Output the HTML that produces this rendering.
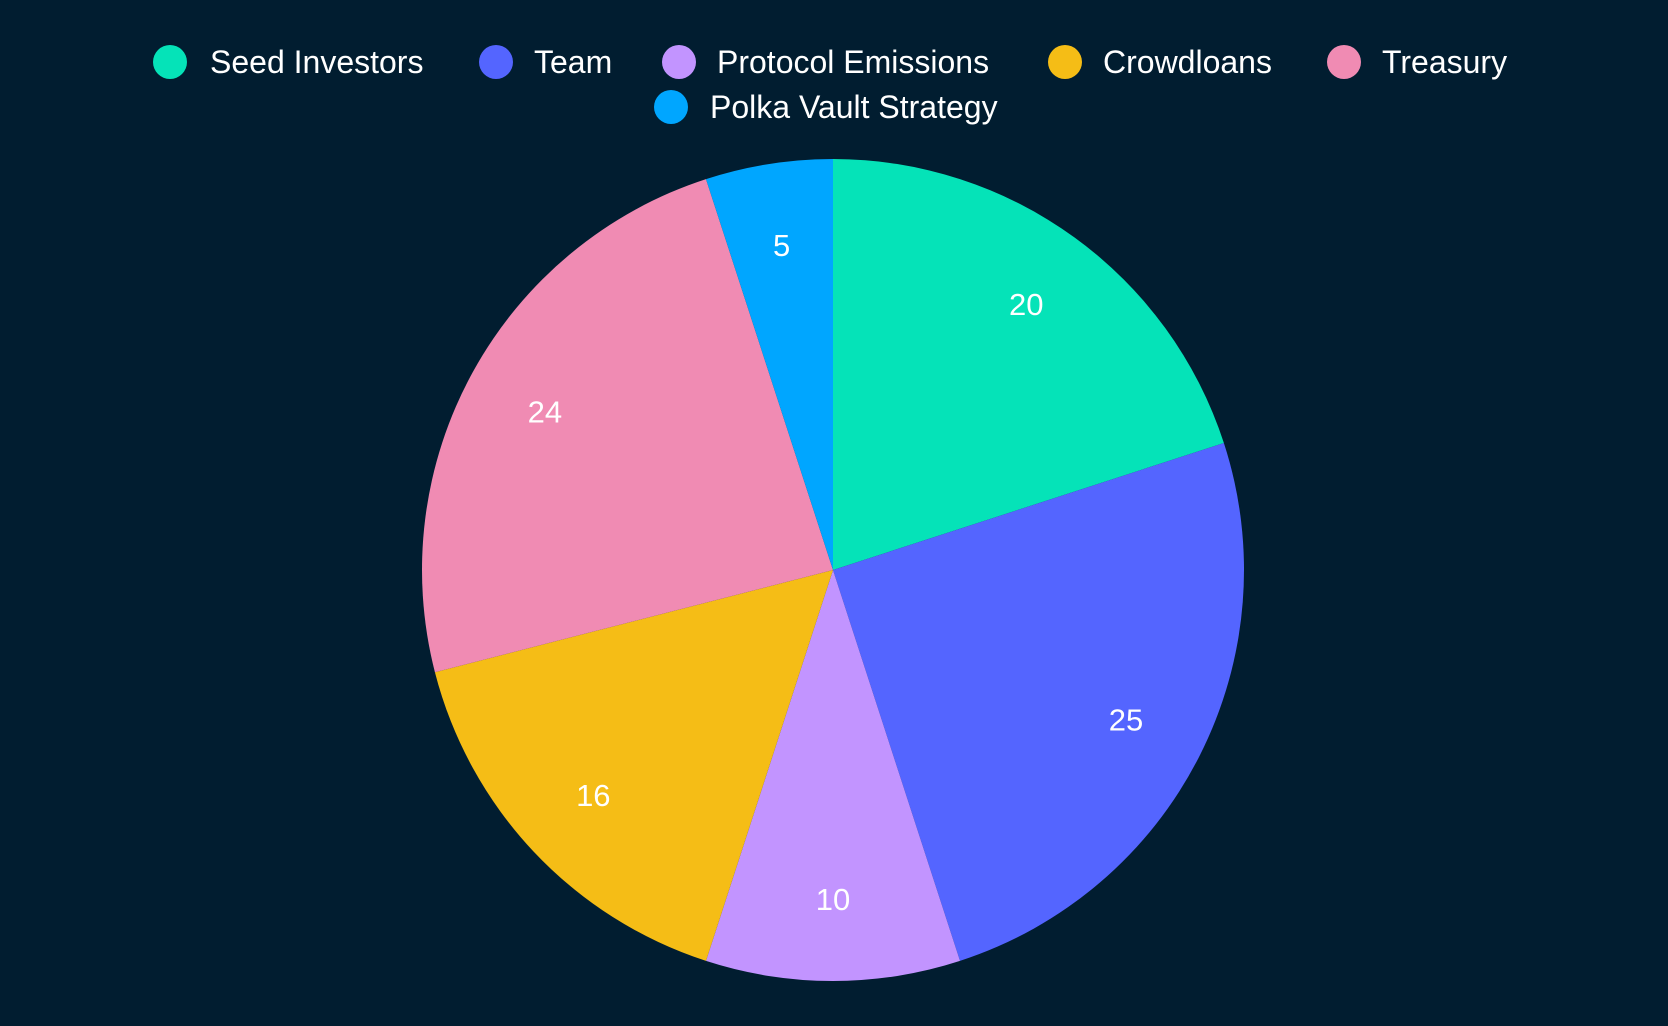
<!DOCTYPE html>
<html><head><meta charset="utf-8"><style>
html,body{margin:0;padding:0;background:#011d30;}
svg{display:block;font-family:"Liberation Sans",Arial,sans-serif;}
</style></head><body>
<svg id="chart" width="1668" height="1026" viewBox="0 0 1668 1026" xmlns="http://www.w3.org/2000/svg">
<rect width="1668" height="1026" fill="#011d30"/>
<g id="legend"></g>
<g id="slices"></g>
<g id="labels"></g>
</svg>
<script>
const categories = ["Seed Investors","Team","Protocol Emissions","Crowdloans","Treasury","Polka Vault Strategy"];
const values = [20,25,10,16,24,5];
const colors = ["#05e3b8","#5465ff","#c294ff","#f5bd16","#f08bb3","#00a6ff"];
const NS="http://www.w3.org/2000/svg";
const cx=833, cy=570, r=411;
const total=values.reduce((a,b)=>a+b,0);
function pt(a,rr){return [cx+rr*Math.sin(a), cy-rr*Math.cos(a)];}
let ang=0;
const sg=document.getElementById('slices'), lg=document.getElementById('labels');
values.forEach((v,i)=>{
  const a0=ang, a1=ang+v/total*2*Math.PI; ang=a1;
  const p0=pt(a0,r), p1=pt(a1,r);
  const large=(a1-a0)>Math.PI?1:0;
  const p=document.createElementNS(NS,'path');
  p.setAttribute('d',`M${cx},${cy} L${p0[0]},${p0[1]} A${r},${r} 0 ${large} 1 ${p1[0]},${p1[1]} Z`);
  p.setAttribute('fill',colors[i]);
  
  
  sg.appendChild(p);
  const m=pt((a0+a1)/2,r*0.8);
  const t=document.createElementNS(NS,'text');
  t.setAttribute('x',m[0]); t.setAttribute('y',m[1]+11);
  t.setAttribute('text-anchor','middle'); t.setAttribute('fill','#fff'); t.setAttribute('font-size','31');
  t.textContent=v;
  
  
  lg.appendChild(t);
});
const legendPos=[[170,210,62],[496,534,62],[679,717,62],[1065,1103,62],[1344,1382,62],[671,710,107]];
const leg=document.getElementById('legend');
categories.forEach((c,i)=>{
  const g=document.createElementNS(NS,'g');
  
  
  const ci=document.createElementNS(NS,'circle');
  ci.setAttribute('cx',legendPos[i][0]); ci.setAttribute('cy',legendPos[i][2]); ci.setAttribute('r',17);
  ci.setAttribute('fill',colors[i]);
  
  
  const t=document.createElementNS(NS,'text');
  t.setAttribute('x',legendPos[i][1]); t.setAttribute('y',legendPos[i][2]+11);
  t.setAttribute('fill','#fff'); t.setAttribute('font-size','32');
  t.textContent=c;
  
  
  g.appendChild(ci); g.appendChild(t); leg.appendChild(g);
});
</script>
</body></html>
